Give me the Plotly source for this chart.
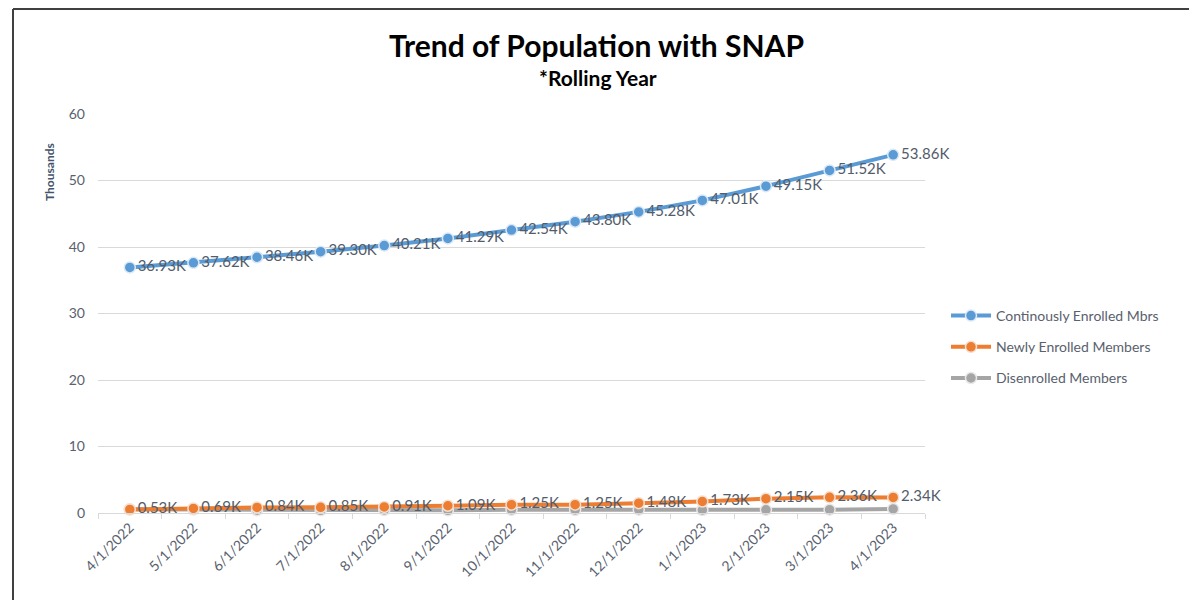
import plotly.graph_objects as go

dates = ["4/1/2022", "5/1/2022", "6/1/2022", "7/1/2022", "8/1/2022", "9/1/2022",
         "10/1/2022", "11/1/2022", "12/1/2022", "1/1/2023", "2/1/2023", "3/1/2023", "4/1/2023"]
continuous = [36.93, 37.62, 38.46, 39.30, 40.21, 41.29, 42.54, 43.80, 45.28, 47.01, 49.15, 51.52, 53.86]
newly = [0.53, 0.69, 0.84, 0.85, 0.91, 1.09, 1.25, 1.25, 1.48, 1.73, 2.15, 2.36, 2.34]
disenrolled = [0.55, 0.52, 0.42, 0.40, 0.45, 0.40, 0.48, 0.45, 0.50, 0.45, 0.48, 0.50, 0.62]

names = ["Continously Enrolled Mbrs", "Newly Enrolled Members", "Disenrolled Members"]
colors = ["#5B9BD5", "#ED7D31", "#A5A5A5"]

FONT = "Lato, Carlito, Calibri, sans-serif"
LABEL_COLOR = "#525c6b"
TICK_COLOR = "#59616e"

fig = go.Figure()

fig.add_trace(go.Scatter(
    x=dates, y=disenrolled, name=names[2], mode="lines+markers",
    line=dict(color=colors[2], width=4),
    marker=dict(size=11, color=colors[2], line=dict(color="#e8e8e8", width=1.5)),
    legendgroup="c", legendrank=3, cliponaxis=False,
))
fig.add_trace(go.Scatter(
    x=dates, y=newly, name=names[1], mode="lines+markers+text",
    line=dict(color=colors[1], width=4),
    marker=dict(size=11, color=colors[1], line=dict(color="#f3e0d2", width=1.5)),
    text=[f"{v:.2f}K" for v in newly], textposition="middle right",
    textfont=dict(family=FONT, size=15, color=LABEL_COLOR),
    legendgroup="b", legendrank=2, cliponaxis=False,
))
fig.add_trace(go.Scatter(
    x=dates, y=continuous, name=names[0], mode="lines+markers+text",
    line=dict(color=colors[0], width=4),
    marker=dict(size=11, color=colors[0], line=dict(color="#dbe8f5", width=1.5)),
    text=[f"{v:.2f}K" for v in continuous], textposition="middle right",
    textfont=dict(family=FONT, size=15, color=LABEL_COLOR),
    legendgroup="a", legendrank=1, cliponaxis=False,
))

OFF = 8  # page offset of the figure
W, H = 1197, 600
# screen coordinates of plot area
SX0, SX1, SY0, SY1 = 98, 925, 114, 513
L, R, T, B = SX0 - OFF, W - (SX1 - OFF), SY0 - OFF, H - (SY1 - OFF)
pw, ph = SX1 - SX0, SY1 - SY0

def px(x):
    return (x - SX0) / pw

def py(y):
    return (SY1 - y) / ph

fig.update_layout(
    width=W, height=H,
    margin=dict(l=L, r=R, t=T, b=B, autoexpand=False),
    paper_bgcolor="white", plot_bgcolor="white",
    font=dict(family=FONT, color=TICK_COLOR),
    showlegend=True,
    legend=dict(
        x=px(946), y=py(300), xanchor="left", yanchor="top",
        font=dict(family=FONT, size=14, color=TICK_COLOR),
        tracegroupgap=10, itemwidth=40, bgcolor="rgba(0,0,0,0)",
        traceorder="grouped",
    ),
    xaxis=dict(
        type="category", range=[-0.5, 12.5],
        showgrid=False, showline=True, linecolor="#d9d9d9", linewidth=1,
        ticks="outside", tickson="boundaries", ticklen=5, tickcolor="#d9d9d9",
        tickangle=-45, tickfont=dict(family=FONT, size=14, color=TICK_COLOR),
        automargin=False,
    ),
    yaxis=dict(
        range=[0, 60], tickvals=[0, 10, 20, 30, 40, 50, 60],
        showgrid=True, gridcolor="#d9d9d9", gridwidth=1,
        zeroline=False, showline=False, ticks="",
        tickfont=dict(family=FONT, size=14, color=TICK_COLOR),
        ticklabelstandoff=12, automargin=False,
    ),
    annotations=[
        dict(text="<b>Trend of Population with SNAP</b>", xref="paper", yref="paper",
             x=px(596), y=py(45), xanchor="center", yanchor="middle", showarrow=False,
             font=dict(family=FONT, size=30, color="black")),
        dict(text="<b>*Rolling Year</b>", xref="paper", yref="paper",
             x=px(598), y=py(77), xanchor="center", yanchor="middle", showarrow=False,
             font=dict(family=FONT, size=21, color="black")),
        dict(text="<b>Thousands</b>", xref="paper", yref="paper",
             x=px(49), y=py(172), xanchor="center", yanchor="middle", showarrow=False,
             textangle=-90, font=dict(family=FONT, size=12, color="#44546A")),
    ],
    shapes=[
        dict(type="line", xref="paper", yref="paper", x0=px(13), x1=px(13), y0=py(9), y1=py(620),
             line=dict(color="#404040", width=2)),
        dict(type="line", xref="paper", yref="paper", x0=px(13), x1=px(1193), y0=py(9), y1=py(9),
             line=dict(color="#404040", width=2)),
        dict(type="line", xref="paper", yref="paper", x0=px(1192), x1=px(1192), y0=py(9), y1=py(620),
             line=dict(color="#A6A6A6", width=2)),
    ],
)

fig.write_html("out.html")
